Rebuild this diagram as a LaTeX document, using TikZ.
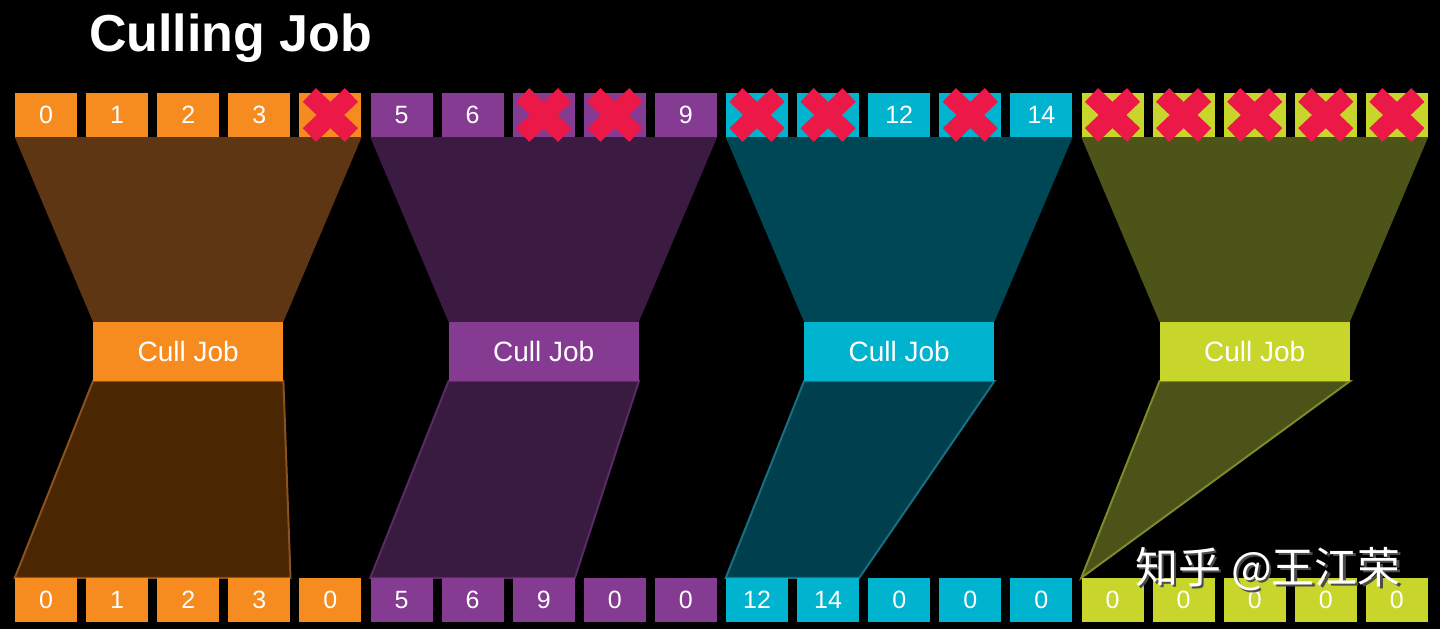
\documentclass[tikz,border=0pt]{standalone}
\usepackage{fontspec}
\setmainfont{Liberation Sans}
\newfontfamily\cjkfont{Noto Sans CJK SC}

\definecolor{cell0}{HTML}{F68B1F}
\definecolor{cell1}{HTML}{863B92}
\definecolor{cell2}{HTML}{00B3CF}
\definecolor{cell3}{HTML}{C8D52B}
\definecolor{funtop0}{HTML}{5E3614}
\definecolor{funtop1}{HTML}{3B1B42}
\definecolor{funtop2}{HTML}{004755}
\definecolor{funtop3}{HTML}{4D5418}
\definecolor{funlow0}{HTML}{4A2603}
\definecolor{funlow1}{HTML}{381B3F}
\definecolor{funlow2}{HTML}{00404E}
\definecolor{funlow3}{HTML}{4C5318}
\definecolor{funedge0}{HTML}{8A521E}
\definecolor{funedge1}{HTML}{5A2A66}
\definecolor{funedge2}{HTML}{1A6E80}
\definecolor{funedge3}{HTML}{7E8A2A}
\definecolor{cullred}{HTML}{EC1847}

\pgfdeclarelayer{back}
\pgfsetlayers{back,main}

\begin{document}
\begin{tikzpicture}[
  x=1pt,
  y=-1pt,
  line join=miter
]

  \def\pitch{71.1}

  % styles for cells, jobs and marks
  \tikzset{
    cell/.style={minimum width=62pt, minimum height=44pt, inner sep=0pt,
      text=white, font=\fontsize{25}{25}\selectfont},
    job/.style={minimum width=190pt, minimum height=59pt, inner sep=0pt,
      text=white, font=\fontsize{28}{28}\selectfont},
    xmark/.style={cullred, line width=19pt, line cap=butt},
    lowfun/.style={line width=2pt}
  }

  % helper macro: red cross over a culled cell
  \def\cullmark#1{%
    \draw[xmark] ([shift={(-21,-20)}]#1.center) -- ([shift={(21,20)}]#1.center);
    \draw[xmark] ([shift={(-21,20)}]#1.center) -- ([shift={(21,-20)}]#1.center);
  }

  % background
  \begin{pgfonlayer}{back}
    \fill[black] (0,0) rectangle (1440,629);
  \end{pgfonlayer}

  % title
  \node[anchor=base west, inner sep=0pt, text=white,
    font=\bfseries\fontsize{52}{52}\selectfont] (title) at (89,51) {Culling Job};

  % input row
  \foreach \i/\v in {0/0,1/1,2/2,3/3,4/{},5/5,6/6,7/{},8/{},9/9,
                     10/{},11/{},12/12,13/{},14/14,15/{},16/{},17/{},18/{},19/{}} {
    \pgfmathtruncatemacro\g{\i/5}
    \node[cell, fill=cell\g] (t\i) at ({46+\pitch*\i},115) {\v};
  }

  % output row
  \foreach \i/\v in {0/0,1/1,2/2,3/3,4/0,5/5,6/6,7/9,8/0,9/0,
                     10/12,11/14,12/0,13/0,14/0,15/0,16/0,17/0,18/0,19/0} {
    \pgfmathtruncatemacro\g{\i/5}
    \node[cell, fill=cell\g] (b\i) at ({46+\pitch*\i},600) {\v};
  }

  % jobs
  \foreach \g in {0,...,3} {
    \node[job, fill=cell\g] (j\g) at ({188.2+355.5*\g},351.5) {Cull Job};
  }

  % culled entries
  \foreach \i in {4,7,8,10,11,13,15,16,17,18,19} {
    \cullmark{t\i}
  }

  \begin{pgfonlayer}{back}
    % funnels into the jobs
    \fill[funtop0] (t0.south west) -- (t4.south east) -- (j0.north east) -- (j0.north west) -- cycle;
    \fill[funtop1] (t5.south west) -- (t9.south east) -- (j1.north east) -- (j1.north west) -- cycle;
    \fill[funtop2] (t10.south west) -- (t14.south east) -- (j2.north east) -- (j2.north west) -- cycle;
    \fill[funtop3] (t15.south west) -- (t19.south east) -- (j3.north east) -- (j3.north west) -- cycle;

    % compacted output
    \filldraw[lowfun, fill=funlow0, draw=funedge0]
      (j0.south west) -- (j0.south east) -- (b3.north east) -- (b0.north west) -- cycle;
    \filldraw[lowfun, fill=funlow1, draw=funedge1]
      (j1.south west) -- (j1.south east) -- (b7.north east) -- (b5.north west) -- cycle;
    \filldraw[lowfun, fill=funlow2, draw=funedge2]
      (j2.south west) -- (j2.south east) -- (b11.north east) -- (b10.north west) -- cycle;
    \filldraw[lowfun, fill=funlow3, draw=funedge3]
      (j3.south west) -- (j3.south east) -- (b15.north west) -- cycle;
  \end{pgfonlayer}

  % watermark
  \node[anchor=west, inner sep=0pt, text=black!70,
    font=\cjkfont\fontsize{43}{43}\selectfont] (wmshadow) at (1137.5,571.5) {知乎\hspace{10pt}@王江荣};
  \node[anchor=west, inner sep=0pt, text=white,
    font=\cjkfont\fontsize{43}{43}\selectfont] (wm) at (1135,569) {知乎\hspace{10pt}@王江荣};

\end{tikzpicture}
\end{document}
